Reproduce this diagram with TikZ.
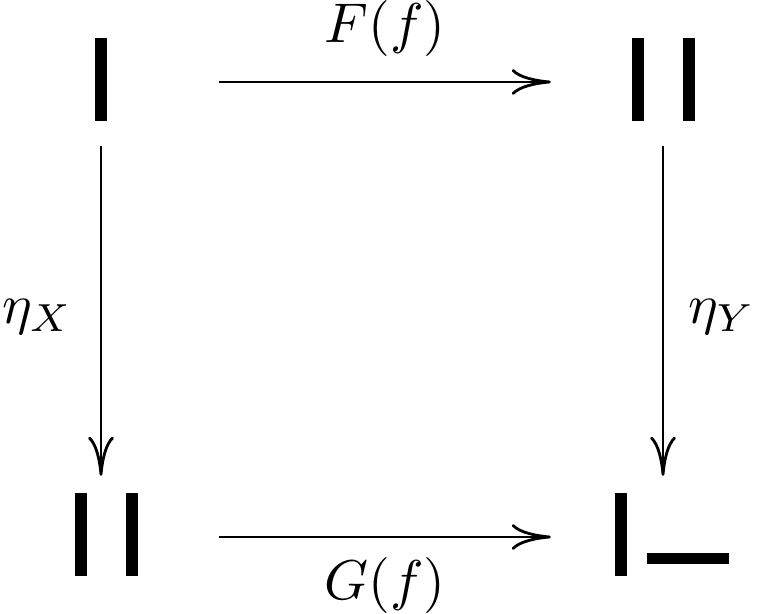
\documentclass[tikz,border=0pt]{standalone}
\usetikzlibrary{arrows.meta}
\begin{document}
\begin{tikzpicture}[x=0.1786pt,y=-0.1786pt,
  obj/.style={draw=none,inner sep=0pt,minimum width=#1*0.1786pt},
  mor/.style={line width=0.5pt,-{To[length=7pt,width=4.6pt]}},
  bar/.style={fill=black}]
\useasboundingbox (0,0) rectangle (761,614);
% objects (invisible frames, arrows start/end on their borders)
\node[obj=234,minimum height=126*0.1786pt] (A) at (101,82) {};
\node[obj=222,minimum height=126*0.1786pt] (B) at (663,82) {};
\node[obj=234,minimum height=120*0.1786pt] (C) at (101,537) {};
\node[obj=222,minimum height=120*0.1786pt] (D) at (663,537) {};
% bars
\fill[bar] (95,38) rectangle (107,121);
\fill[bar] (632,38) rectangle (644,121);
\fill[bar] (683,38) rectangle (695,121);
\fill[bar] (75,493) rectangle (87,576);
\fill[bar] (126,493) rectangle (138,576);
\fill[bar] (615,493) rectangle (627,576);
\fill[bar] (647,553) rectangle (729,564);
% morphisms
\draw[mor] (A.east) -- node[midway,above,yshift=1pt] {$F(f)$} (B.west);
\draw[mor] (C.east) -- node[midway,below] {$G(f)$} (D.west);
\draw[mor] (A.south) -- node[midway,left,xshift=-1.5pt,yshift=-1pt] {$\eta_X$} (C.north);
\draw[mor] (B.south) -- node[midway,right,xshift=1pt,yshift=-1pt] {$\eta_Y$} (D.north);
\end{tikzpicture}
\end{document}
